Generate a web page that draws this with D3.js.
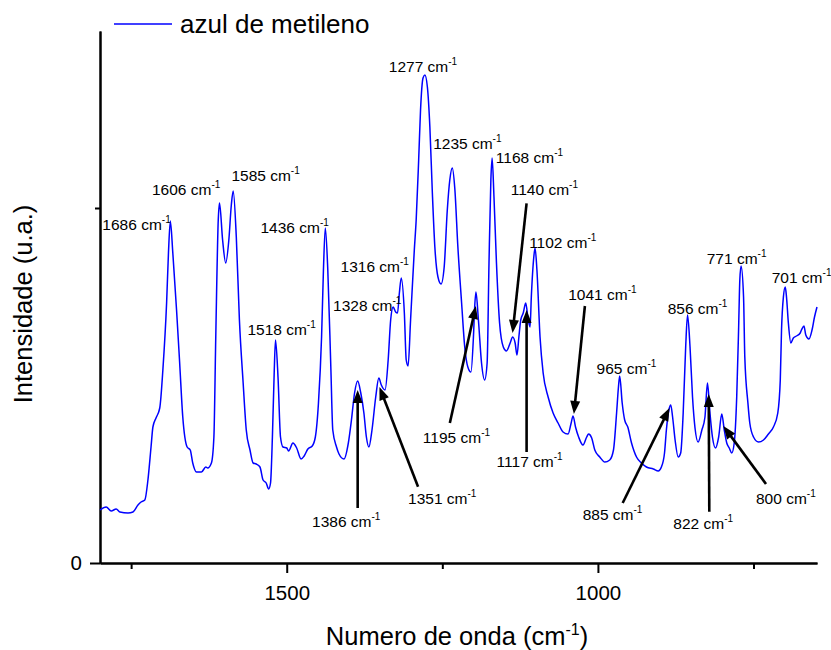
<!DOCTYPE html>
<html>
<head>
<meta charset="utf-8">
<script src="https://cdn.jsdelivr.net/npm/d3@7"></script>
<style>
  body { margin: 0; background: #fff; }
  svg { display: block; font-family: Arial, "Liberation Sans", sans-serif; }
</style>
</head>
<body>
<svg id="chart" width="831" height="650"></svg>
<script>
// Raman spectrum of methylene blue: wavenumber (cm-1) and intensity (a.u.)
const wavenumber = [
  1800, 1790, 1782, 1774, 1768, 1755, 1747, 1739, 1734, 1728, 1723, 1718, 1715, 1710, 1704, 1699,
  1693, 1690, 1687, 1683, 1677, 1672, 1667, 1660, 1655, 1651, 1645, 1637, 1630, 1627, 1621, 1617,
  1614, 1610, 1608, 1603, 1598, 1593, 1589, 1586, 1581, 1576, 1570, 1565, 1559, 1554, 1549, 1543,
  1538, 1533, 1529, 1526, 1523, 1520, 1518, 1514, 1510, 1506, 1500, 1497, 1490, 1484, 1477, 1472,
  1466, 1459, 1454, 1449, 1444, 1441, 1438, 1434, 1429, 1426, 1420, 1416, 1408, 1401, 1396, 1391,
  1386, 1381, 1376, 1372, 1368, 1363, 1357, 1352, 1348, 1342, 1337, 1333, 1329, 1325, 1322, 1319,
  1316, 1311, 1308, 1305, 1301, 1295, 1292, 1288, 1285, 1281, 1278, 1274, 1270, 1266, 1262, 1257,
  1252, 1247, 1242, 1238, 1234, 1230, 1225, 1219, 1214, 1209, 1204, 1200, 1198, 1196, 1192, 1187,
  1182, 1178, 1175, 1172, 1170, 1167, 1163, 1158, 1152, 1147, 1141, 1137, 1133, 1130, 1127, 1124,
  1120, 1116, 1112, 1109, 1107, 1103, 1101, 1098, 1093, 1088, 1080, 1072, 1064, 1056, 1048, 1043,
  1040, 1036, 1031, 1024, 1018, 1015, 1010, 1005, 997, 989, 981, 975, 970, 967, 965, 961,
  957, 952, 946, 938, 930, 922, 911, 903, 898, 893, 890, 886, 883, 880, 876, 871,
  867, 863, 859, 856, 852, 848, 844, 839, 833, 828, 824, 820, 816, 811, 806, 801,
  797, 793, 789, 785, 781, 777, 774, 772, 770, 766, 764, 759, 756, 750, 742, 734,
  726, 718, 711, 707, 705, 702, 699, 697, 694, 690, 686, 681, 675, 673, 669, 666,
  661, 656, 652, 648
];
const intensity = [
  53, 56, 52, 54, 51, 50, 51, 58, 61, 63, 83, 116, 136, 145, 155, 193,
  260, 310, 342, 310, 253, 200, 146, 116, 113, 100, 91, 91, 96, 95, 100, 126,
  226, 343, 360, 323, 300, 323, 358, 372, 326, 243, 180, 133, 113, 100, 99, 96,
  83, 80, 74, 80, 126, 193, 223, 186, 126, 116, 115, 112, 120, 115, 104, 107,
  114, 117, 126, 160, 226, 293, 335, 293, 193, 133, 116, 109, 104, 120, 143, 170,
  182, 170, 150, 126, 116, 133, 166, 185, 178, 173, 203, 243, 256, 251, 250, 270,
  285, 250, 203, 197, 243, 313, 343, 403, 453, 485, 488, 476, 436, 370, 316, 286,
  279, 296, 353, 383, 395, 375, 316, 260, 216, 196, 191, 226, 256, 271, 243, 200,
  183, 200, 300, 383, 405, 366, 300, 240, 216, 212, 220, 226, 220, 208, 226, 243,
  250, 260, 243, 236, 266, 306, 315, 293, 226, 190, 166, 150, 140, 131, 129, 140,
  147, 136, 126, 118, 126, 129, 125, 113, 106, 101, 103, 113, 150, 176, 187, 160,
  143, 136, 120, 106, 100, 96, 94, 92, 96, 110, 133, 153, 158, 146, 123, 106,
  110, 150, 216, 248, 216, 166, 135, 121, 133, 146, 180, 150, 126, 115, 126, 149,
  133, 120, 115, 110, 120, 166, 233, 283, 297, 266, 206, 160, 140, 126, 121, 123,
  129, 136, 150, 183, 233, 266, 276, 266, 240, 220, 225, 227, 230, 233, 237, 228,
  224, 233, 246, 256
];

const seriesName = "azul de metileno";
const xDomain = [1800, 648];
const yDomain = [0, 532];
const xMajorTicks = [1500, 1000];
const xMinorTicks = [1750, 1250, 750];
const yMajorTicks = [0];
const yMinorTicks = [355];
const xTitle = "Numero de onda (cm";
const yTitle = "Intensidade (u.a.)";

// Peaks labelled directly, and peaks labelled through an arrow
const peakLabels = [1686, 1606, 1585, 1518, 1436, 1328, 1316, 1277, 1235, 1168, 1102, 965, 856, 771, 701];
const arrowLabels = [1386, 1351, 1195, 1140, 1117, 1041, 885, 822, 800];

// Label placement: pixel offsets from the top of each peak
const peakLabelOffset = {
  1686: [-68.6, 9], 1606: [-68.8, -8], 1585: [-2.4, -10], 1518: [-28.1, -5],
  1436: [-66.1, 5], 1328: [-60.7, 4], 1316: [-60.7, -6], 1277: [-36.7, -3],
  1235: [-18.5, -19], 1168: [2.5, 5], 1102: [-5.3, 0], 965: [-23.1, -2],
  856: [-19.9, -1], 771: [-33.7, -2], 701: [-12.3, -4]
};
const arrowOffset = {
  1386: { tip: [0, 9],     tail: [0, 127],      text: [-45.6, 146] },
  1351: { tip: [0, 9],     tail: [38.6, 108.7], text: [28.6, 126] },
  1195: { tip: [-0.7, 14], tail: [-26.7, 131],  text: [-53.7, 151] },
  1140: { tip: [1.8, -4],  tail: [15.8, -133.7], text: [0, -142] },
  1117: { tip: [1.5, 7],   tail: [1.5, 149],    text: [-28.5, 164] },
  1041: { tip: [1.5, -2],  tail: [12.5, -110],  text: [-4.2, -116] },
  885:  { tip: [0, 3],     tail: [-46.8, 98],   text: [-86.8, 115] },
  822:  { tip: [0, 11],    tail: [0.6, 128.7],  text: [-35.4, 146] },
  800:  { tip: [1, 12],    tail: [43.6, 70],    text: [33.6, 90] }
};

const spectrum = wavenumber.map((w, i) => ({ w, v: intensity[i] }));

const svg = d3.select("#chart");
const x = d3.scaleLinear().domain(xDomain).range([100, 817]);
const y = d3.scaleLinear().domain(yDomain).range([563, 31]);

// Axes
const axisStyle = g => {
  g.selectAll("path, line").attr("stroke", "#000").attr("stroke-width", 2);
  g.selectAll("text").attr("fill", "#000").attr("font-family", "Arial, 'Liberation Sans', sans-serif");
};

svg.append("g").attr("transform", "translate(0,563)")
  .call(d3.axisBottom(x).tickValues(xMinorTicks).tickSize(6).tickSizeOuter(0).tickFormat(""))
  .call(axisStyle);
svg.append("g").attr("transform", "translate(0,563)")
  .call(d3.axisBottom(x).tickValues(xMajorTicks).tickSize(10).tickSizeOuter(0).tickPadding(12).tickFormat(d3.format("d")))
  .call(axisStyle)
  .call(g => g.selectAll("text").attr("font-size", 20.5));

svg.append("g").attr("transform", "translate(100,0)")
  .call(d3.axisLeft(y).tickValues(yMinorTicks).tickSize(5).tickSizeOuter(0).tickFormat(""))
  .call(axisStyle);
svg.append("g").attr("transform", "translate(100,0)")
  .call(d3.axisLeft(y).tickValues(yMajorTicks).tickSize(10).tickSizeOuter(0).tickPadding(8).tickFormat(d3.format("d")))
  .call(axisStyle)
  .call(g => g.selectAll("text").attr("font-size", 20.5));

// Axis titles
const xt = svg.append("text")
  .attr("x", 457).attr("y", 645).attr("text-anchor", "middle")
  .attr("font-size", 25.5).attr("fill", "#000");
xt.append("tspan").text(xTitle);
xt.append("tspan").attr("font-size", 16).attr("dy", -10).text("-1");
xt.append("tspan").attr("dy", 10).text(")");

svg.append("text")
  .attr("transform", "translate(32,304) rotate(-90)")
  .attr("text-anchor", "middle")
  .attr("font-size", 25.5).attr("fill", "#000")
  .text(yTitle);

// Spectrum
svg.append("path")
  .datum(spectrum)
  .attr("fill", "none")
  .attr("stroke", "#0000ff")
  .attr("stroke-width", 1.5)
  .attr("stroke-linejoin", "round")
  .attr("d", d3.line().x(d => x(d.w)).y(d => y(d.v)).curve(d3.curveMonotoneX));

// Legend
svg.append("line")
  .attr("x1", 114).attr("x2", 172).attr("y1", 24).attr("y2", 24)
  .attr("stroke", "#0000ff").attr("stroke-width", 1.5);
svg.append("text")
  .attr("x", 180).attr("y", 33)
  .attr("font-size", 26).attr("fill", "#000")
  .text(seriesName);

// Top of the peak nearest to a labelled wavenumber
function peakTop(label) {
  const near = spectrum.filter(d => Math.abs(d.w - label) <= 4);
  const top = d3.greatest(near, d => d.v);
  return [x(label), y(top.v)];
}

function addLabel(px, py, label) {
  const t = svg.append("text")
    .attr("x", px).attr("y", py)
    .attr("font-size", 15.5).attr("fill", "#000");
  t.append("tspan").text(label + " cm");
  t.append("tspan").attr("font-size", 10).attr("dy", -7).text("-1");
}

peakLabels.forEach(p => {
  const [px, py] = peakTop(p);
  const [dx, dy] = peakLabelOffset[p];
  addLabel(px + dx, py + dy, p);
});

// Arrows pointing at the smaller bands
const headLen = 13, headHalf = 5;
arrowLabels.forEach(p => {
  const [px, py] = peakTop(p);
  const o = arrowOffset[p];
  const tip = [px + o.tip[0], py + o.tip[1]];
  const tail = [px + o.tail[0], py + o.tail[1]];
  const ang = Math.atan2(tip[1] - tail[1], tip[0] - tail[0]);
  const ux = Math.cos(ang), uy = Math.sin(ang);
  const base = [tip[0] - ux * headLen, tip[1] - uy * headLen];
  svg.append("line")
    .attr("x1", tail[0]).attr("y1", tail[1])
    .attr("x2", base[0] + ux * 2).attr("y2", base[1] + uy * 2)
    .attr("stroke", "#000").attr("stroke-width", 2.6);
  svg.append("path")
    .attr("d", d3.line()([
      tip,
      [base[0] - uy * headHalf, base[1] + ux * headHalf],
      [base[0] + uy * headHalf, base[1] - ux * headHalf]
    ]) + "Z")
    .attr("fill", "#000");
  addLabel(px + o.text[0], py + o.text[1], p);
});
</script>
</body>
</html>
